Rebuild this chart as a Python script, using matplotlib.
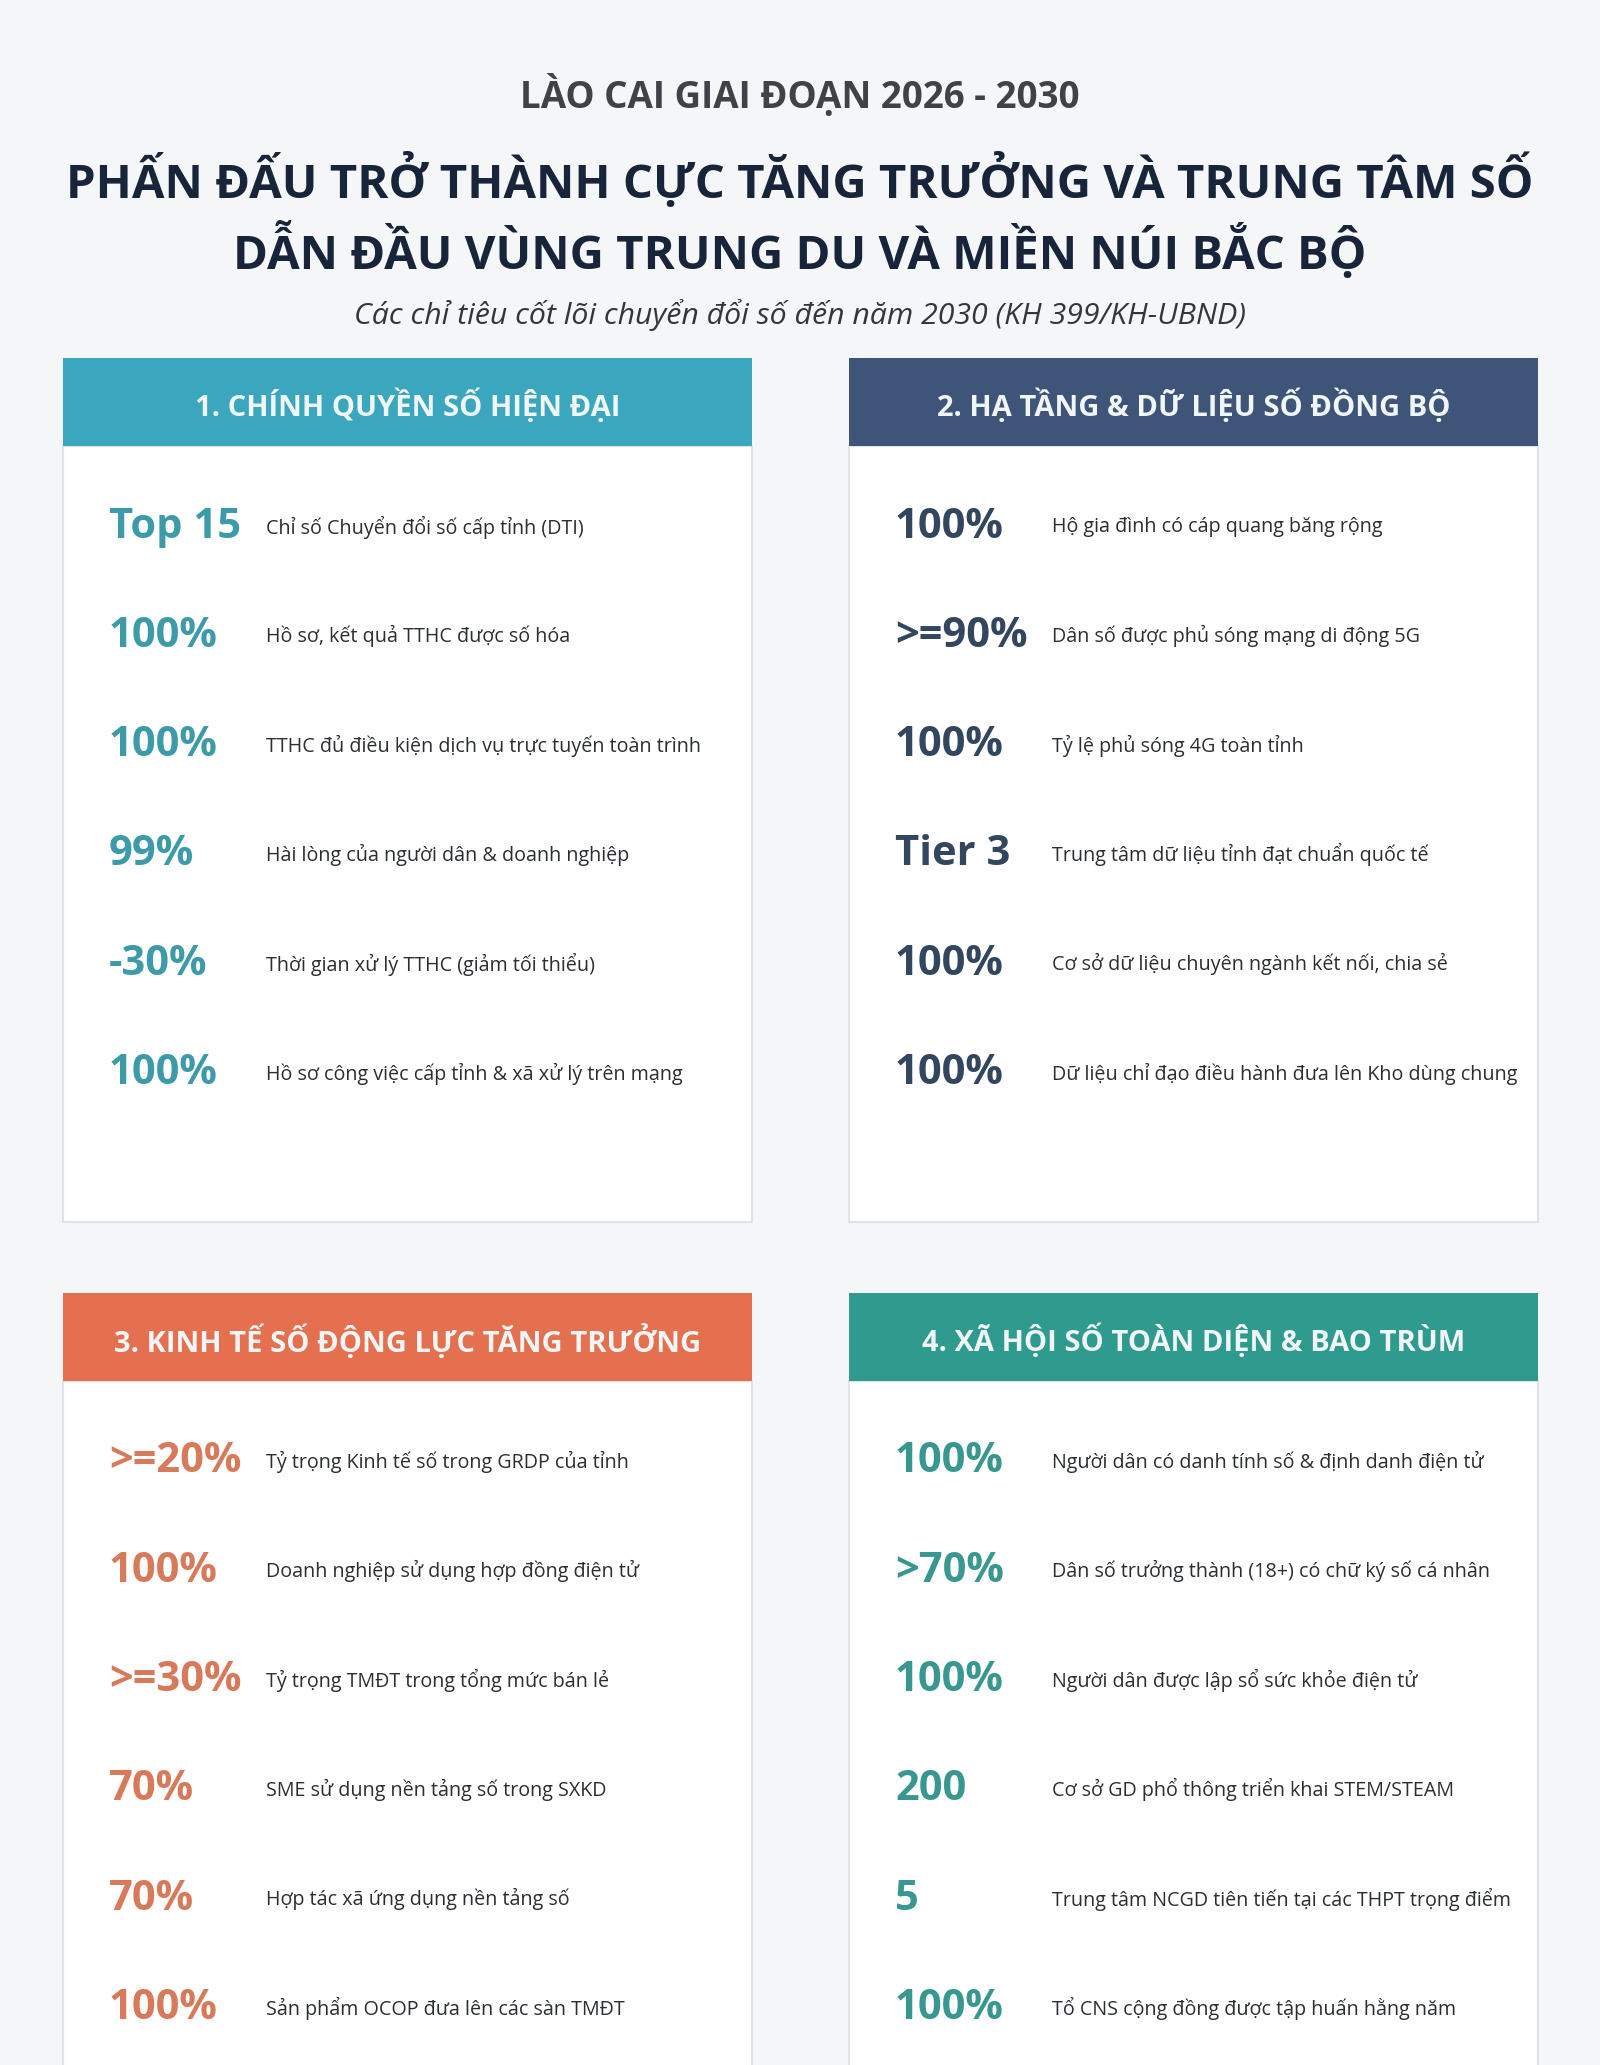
import matplotlib
matplotlib.use("Agg")
import matplotlib.pyplot as plt
from matplotlib.patches import Rectangle

plt.rcParams['font.family'] = ['Open Sans', 'DejaVu Sans']

# texts

kicker = "LÀO CAI GIAI ĐOẠN 2026 - 2030"
title_lines = ["PHẤN ĐẤU TRỞ THÀNH CỰC TĂNG TRƯỞNG VÀ TRUNG TÂM SỐ",
               "DẪN ĐẦU VÙNG TRUNG DU VÀ MIỀN NÚI BẮC BỘ"]
subtitle = "Các chỉ tiêu cốt lõi chuyển đổi số đến năm 2030 (KH 399/KH-UBND)"

panel_titles = ["1. CHÍNH QUYỀN SỐ HIỆN ĐẠI",
                "2. HẠ TẦNG & DỮ LIỆU SỐ ĐỒNG BỘ",
                "3. KINH TẾ SỐ ĐỘNG LỰC TĂNG TRƯỞNG",
                "4. XÃ HỘI SỐ TOÀN DIỆN & BAO TRÙM"]

values_1 = ["Top 15", "100%", "100%", "99%", "-30%", "100%"]
labels_1 = ["Chỉ số Chuyển đổi số cấp tỉnh (DTI)",
            "Hồ sơ, kết quả TTHC được số hóa",
            "TTHC đủ điều kiện dịch vụ trực tuyến toàn trình",
            "Hài lòng của người dân & doanh nghiệp",
            "Thời gian xử lý TTHC (giảm tối thiểu)",
            "Hồ sơ công việc cấp tỉnh & xã xử lý trên mạng"]

values_2 = ["100%", ">=90%", "100%", "Tier 3", "100%", "100%"]
labels_2 = ["Hộ gia đình có cáp quang băng rộng",
            "Dân số được phủ sóng mạng di động 5G",
            "Tỷ lệ phủ sóng 4G toàn tỉnh",
            "Trung tâm dữ liệu tỉnh đạt chuẩn quốc tế",
            "Cơ sở dữ liệu chuyên ngành kết nối, chia sẻ",
            "Dữ liệu chỉ đạo điều hành đưa lên Kho dùng chung"]

values_3 = [">=20%", "100%", ">=30%", "70%", "70%", "100%"]
labels_3 = ["Tỷ trọng Kinh tế số trong GRDP của tỉnh",
            "Doanh nghiệp sử dụng hợp đồng điện tử",
            "Tỷ trọng TMĐT trong tổng mức bán lẻ",
            "SME sử dụng nền tảng số trong SXKD",
            "Hợp tác xã ứng dụng nền tảng số",
            "Sản phẩm OCOP đưa lên các sàn TMĐT"]

values_4 = ["100%", ">70%", "100%", "200", "5", "100%"]
labels_4 = ["Người dân có danh tính số & định danh điện tử",
            "Dân số trưởng thành (18+) có chữ ký số cá nhân",
            "Người dân được lập sổ sức khỏe điện tử",
            "Cơ sở GD phổ thông triển khai STEM/STEAM",
            "Trung tâm NCGD tiên tiến tại các THPT trọng điểm",
            "Tổ CNS cộng đồng được tập huấn hằng năm"]

header_colors = ["#3aa7be", "#3e5579", "#e5704f", "#2f9a8e"]
value_colors = ["#3d9aa9", "#33465f", "#d8795a", "#38978f"]

panels = [(values_1, labels_1), (values_2, labels_2),
          (values_3, labels_3), (values_4, labels_4)]

# layout (pixels)
W, H = 1600, 2065
panel_x = [63, 849, 63, 849]
panel_top = [358, 358, 1293, 1293]
panel_w = 689
header_h = 88
body_bottom = [1222, 1222, 2100, 2100]
row_first = 81
row_step = 109.3

fig = plt.figure(figsize=(W / 100, H / 100), dpi=100)
fig.patch.set_facecolor("#f4f6f8")
ax = fig.add_axes([0, 0, 1, 1])
ax.set_xlim(0, W)
ax.set_ylim(H, 0)
ax.axis("off")

ax.text(W / 2, 95, kicker, ha="center", va="center", fontsize=26.5,
        fontweight="bold", color="#3f4348")
for i, line in enumerate(title_lines):
    ax.text(W / 2, 181 + i * 70, line, ha="center", va="center",
            fontsize=34, fontweight="bold", color="#17243a")
ax.text(W / 2, 315, subtitle, ha="center", va="center", fontsize=21.8,
        style="italic", color="#33373c")

for p in range(4):
    x0 = panel_x[p]
    y0 = panel_top[p]
    # body
    ax.add_patch(Rectangle((x0, y0 + header_h), panel_w,
                           body_bottom[p] - y0 - header_h,
                           facecolor="white", edgecolor="#dfe3e8", lw=1.5))
    # header ribbon
    ax.add_patch(Rectangle((x0, y0), panel_w, header_h,
                           facecolor=header_colors[p], edgecolor="none"))
    ax.text(x0 + panel_w / 2, y0 + header_h / 2 + 4, panel_titles[p],
            ha="center", va="center", fontsize=21, fontweight="bold",
            color="#f0f5f6")

    vals, labs = panels[p]
    for r in range(len(vals)):
        yy = y0 + header_h + row_first + r * row_step
        ax.text(x0 + 46, yy, vals[r], ha="left", va="center", fontsize=30,
                fontweight="bold", color=value_colors[p])
        ax.text(x0 + 203, yy, labs[r], ha="left", va="center", fontsize=14.2,
                color="#2b2e33")

fig.savefig("out.png", dpi=100, facecolor=fig.get_facecolor())
